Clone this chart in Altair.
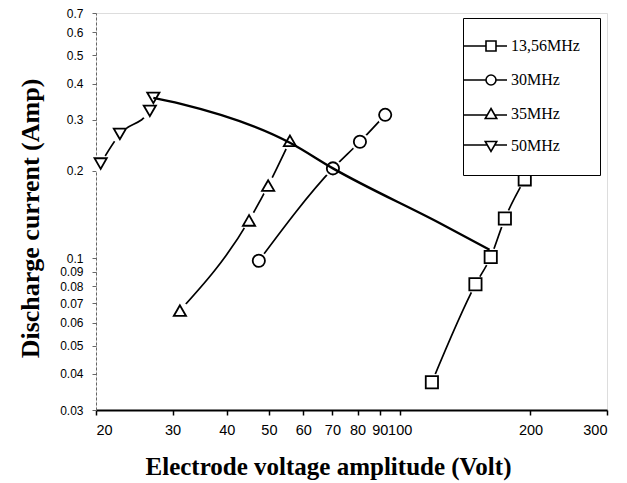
import altair as alt
import pandas as pd

# Discharge current versus electrode voltage amplitude for four drive frequencies
series_names = ["13,56MHz", "30MHz", "35MHz", "50MHz"]
marker_shapes = ["square", "circle", "triangle-up", "triangle-down"]

volt_1356 = [118.6, 149.4, 162.0, 174.6, 194.0]
amp_1356 = [0.0374, 0.0813, 0.101, 0.137, 0.187]

volt_30 = [47.4, 70.2, 81.0, 92.6]
amp_30 = [0.098, 0.204, 0.252, 0.312]

volt_35 = [31.2, 45.0, 49.8, 55.9]
amp_35 = [0.066, 0.135, 0.178, 0.254]

volt_50 = [20.5, 22.7, 26.6, 27.1]
amp_50 = [0.212, 0.268, 0.322, 0.357]

# smooth curve running down from the 50 MHz maximum
volt_curve = [27.1, 31.2, 55.9, 70.2, 123.8, 161.0]
amp_curve = [0.357, 0.341, 0.250, 0.204, 0.132, 0.107]

x_ticks = [20, 30, 40, 50, 60, 70, 80, 90, 100, 200, 300]
y_ticks = [0.03, 0.04, 0.05, 0.06, 0.07, 0.08, 0.09, 0.1,
           0.2, 0.3, 0.4, 0.5, 0.6, 0.7]

# legend glyphs: a short line with the marker in its middle
legend_paths = [
    "M-5.4,0H-1M-1,-1H1V1H-1ZM1,0H3.2",
    "M-5.4,0H-1M-1,0A1,1,0,1,0,1,0A1,1,0,1,0,-1,0M1,0H3.2",
    "M-5.4,0.2H-0.75M0,-1.1L1.15,0.9H-1.15ZM0.75,0.2H3.2",
    "M-5.4,-0.2H-0.75M-1.15,-0.9H1.15L0,1.1ZM0.75,-0.2H3.2",
]

rows = []
for name, xs, ys in zip(series_names,
                        [volt_1356, volt_30, volt_35, volt_50],
                        [amp_1356, amp_30, amp_35, amp_50]):
    for v, a in zip(xs, ys):
        rows.append({"series": name, "voltage": v, "current": a})
df = pd.DataFrame(rows)
curve_df = pd.DataFrame({"voltage": volt_curve, "current": amp_curve})

x_enc = alt.X(
    "voltage:Q",
    scale=alt.Scale(type="log", domain=[20, 300], nice=False),
    axis=alt.Axis(
        values=x_ticks, format="~g", title="Electrode voltage amplitude (Volt)",
        grid=False, labelOverlap=False, labelFont="Liberation Sans", labelFontSize=14.5,
        labelColor="black", labelPadding=8, tickSize=5, tickColor="black",
        tickWidth=1.5, domainColor="black", domainWidth=2,
        titleFont="Liberation Serif", titleFontSize=25, titleFontWeight="bold",
        titleColor="black", titleX=232, titleY=56, titleAlign="center",
        titleBaseline="middle",
    ),
)
y_enc = alt.Y(
    "current:Q",
    scale=alt.Scale(type="log", domain=[0.03, 0.7], nice=False),
    axis=alt.Axis(
        values=y_ticks, format="~g", title="Discharge current (Amp)",
        grid=False, labelOverlap=False, labelFont="Liberation Sans", labelFontSize=12,
        labelColor="black", labelPadding=9, tickSize=4, tickColor="#666",
        domainColor="#666", domainDash=[3, 2], domainWidth=1,
        titleFont="Liberation Serif", titleFontSize=26, titleFontWeight="bold",
        titleColor="black", titleX=-66, titleY=205, titleAngle=-90,
        titleAlign="center", titleBaseline="middle",
    ),
)

lines = alt.Chart(df).mark_line(color="black", strokeWidth=1.7, interpolate="monotone").encode(
    x=x_enc, y=y_enc, detail="series:N"
)

# white discs leave a small gap between each marker and its connecting line
halo = alt.Chart(df).mark_circle(color="white", opacity=1, size=330).encode(
    x="voltage:Q", y="current:Q"
)

points = alt.Chart(df).mark_point(
    fill="white", filled=False, stroke="black", strokeWidth=1.8, size=150, opacity=1
).encode(
    x="voltage:Q",
    y="current:Q",
    shape=alt.Shape(
        "series:N",
        scale=alt.Scale(domain=series_names, range=marker_shapes),
        legend=None,
    ),
)

# invisible layer that carries the legend (line-and-marker glyphs)
legend_layer = alt.Chart(df).mark_point(opacity=0, filled=False, color="black").encode(
    x="voltage:Q",
    y="current:Q",
    shape=alt.Shape(
        "series:N",
        scale=alt.Scale(domain=series_names, range=legend_paths),
        legend=alt.Legend(
            title=None, orient="none", legendX=367, legendY=5,
            strokeColor="black", fillColor="white", padding=20,
            rowPadding=16, labelOffset=12,
            labelFont="Liberation Serif", labelFontSize=16, labelColor="black",
            symbolSize=100, symbolStrokeWidth=1.6, symbolStrokeColor="black",
            symbolFillColor="white", symbolOpacity=1,
        ),
    ),
)

curve = alt.Chart(curve_df).mark_line(
    color="black", strokeWidth=2.4, interpolate="monotone"
).encode(x="voltage:Q", y="current:Q")

chart = alt.layer(lines, halo, points, curve, legend_layer).resolve_scale(
    shape="independent"
).properties(
    width=511, height=397,
    padding={"left": 96, "top": 13, "right": 20, "bottom": 73},
    autosize=alt.AutoSizeParams(type="none"),
).configure_view(
    stroke="#555", strokeWidth=1, strokeDash=[2, 1]
).configure(background="white")

chart.save("out.html", embed_options={"renderer": "svg", "actions": False})
